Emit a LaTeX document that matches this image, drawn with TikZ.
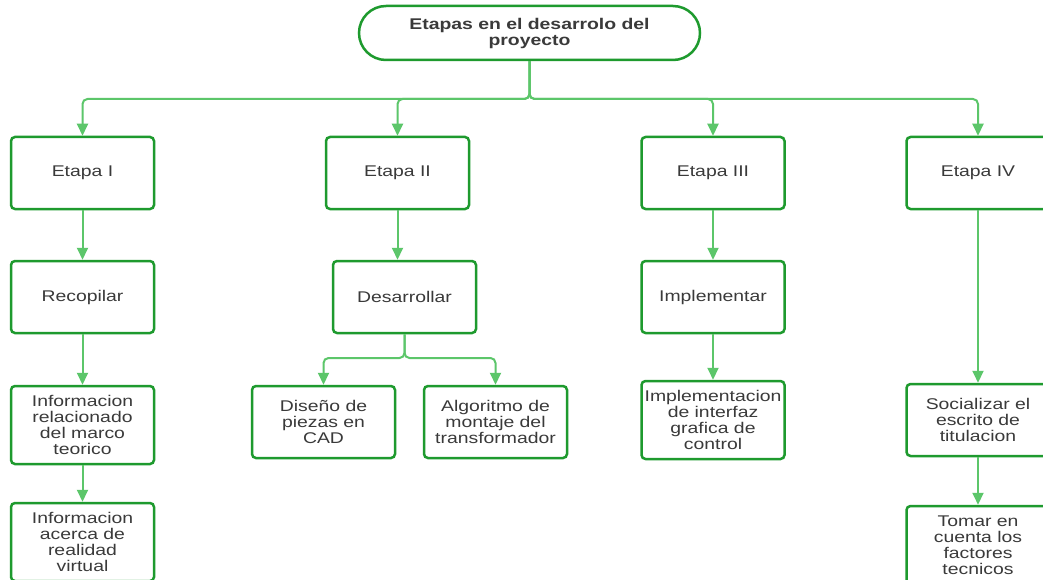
\documentclass[tikz,border=0pt]{standalone}
\usepackage{fontspec}
\setmainfont[FakeStretch=1.25]{Liberation Sans}
\usetikzlibrary{arrows.meta}
\definecolor{boxgreen}{HTML}{1E9A2E}
\definecolor{linkgreen}{HTML}{5CC66A}
\definecolor{txt}{HTML}{3A3A3A}
\begin{document}
\begin{tikzpicture}[x=1pt,y=-1pt,
  stagebox/.style={draw=boxgreen, line width=2.5pt, rounded corners=4pt, fill=white,
    minimum width=143pt, minimum height=72pt, inner sep=2pt, align=center,
    text=txt, font=\fontsize{15.5}{16}\selectfont},
  tall/.style={minimum height=78pt},
  titlebox/.style={draw=boxgreen, line width=2.5pt, rounded corners=27pt, fill=white,
    minimum width=341pt, minimum height=54pt, align=center, text=txt,
    font=\fontsize{15.5}{16}\selectfont\bfseries},
  link/.style={draw=linkgreen, line width=2pt, rounded corners=5pt,
    -{Triangle[length=12pt,width=11pt]}},
]
\clip (0,0) rectangle (1043,580);
\fill[white] (0,0) rectangle (1043,580);

% title
\node[titlebox] (top) at (529.5,33) {Etapas en el desarrolo del\\proyecto};

% stages
\node[stagebox] (e1) at (82.5,173) {Etapa I};
\node[stagebox] (e2) at (397.5,173) {Etapa II};
\node[stagebox] (e3) at (713,173) {Etapa III};
\node[stagebox] (e4) at (978,173) {Etapa IV};

% second row
\node[stagebox] (r1) at (82.5,297) {Recopilar};
\node[stagebox] (r2) at (404.5,297) {Desarrollar};
\node[stagebox] (r3) at (713,297) {Implementar};

% third row
\node[stagebox,tall] (i1) at (82.5,425) {Informacion\\relacionado\\del marco\\teorico};
\node[stagebox] (d1) at (323.5,422) {Diseño de\\piezas en\\CAD};
\node[stagebox] (d2) at (495.5,422) {Algoritmo de\\montaje del\\transformador};
\node[stagebox,tall] (i3) at (713,420) {Implementacion\\de interfaz\\grafica de\\control};
\node[stagebox] (s4) at (978,420) {Socializar el\\escrito de\\titulacion};

% fourth row
\node[stagebox,tall] (v1) at (82.5,542) {Informacion\\acerca de\\realidad\\virtual};
\node[stagebox,tall] (t4) at (978,545) {Tomar en\\cuenta los\\factores\\tecnicos};

% connectors
\coordinate (bus) at (0,99);
\coordinate (split) at (0,358);
\foreach \n in {e1,e2,e3,e4}
  \draw[link] (top.south) -- (top.south |- bus) -| (\n.north);
\draw[link] (e1) -- (r1);
\draw[link] (e2.south) -- (e2.south |- r2.north);
\draw[link] (e3) -- (r3);
\draw[link] (r1) -- (i1);
\draw[link] (i1) -- (v1);
\draw[link] (r2.south) -- (r2.south |- split) -| (d1.north);
\draw[link] (r2.south) -- (r2.south |- split) -| (d2.north);
\draw[link] (r3) -- (i3);
\draw[link] (e4) -- (s4);
\draw[link] (s4) -- (t4);
\end{tikzpicture}
\end{document}
